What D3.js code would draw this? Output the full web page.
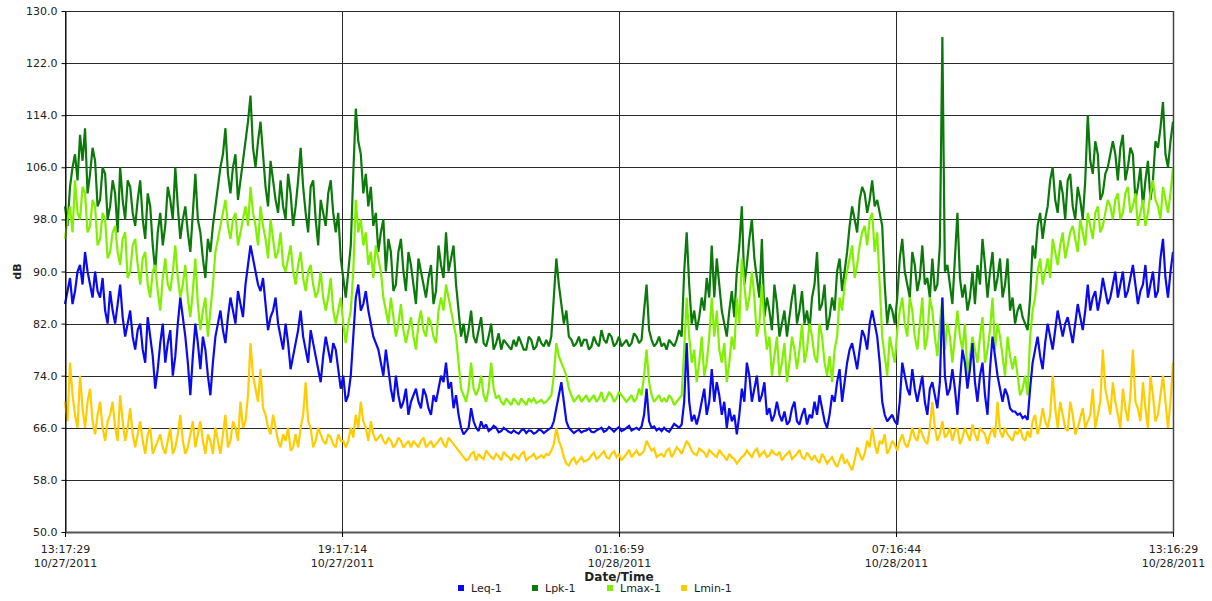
<!DOCTYPE html>
<html>
<head>
<meta charset="utf-8">
<script src="https://cdn.jsdelivr.net/npm/d3@7"></script>
<style>
  html, body { margin: 0; padding: 0; background: #fff; }
  svg { display: block; }
  text { font-family: "DejaVu Sans", Verdana, sans-serif; fill: #222; }
</style>
</head>
<body>
<svg id="chart" width="1212" height="601"></svg>
<script>
// Sound level log, 10/27/2011 13:17:29 to 10/28/2011 13:16:29 (evenly spaced samples)
const startTime = "10/27/2011 13:17:29";
const endTime = "10/28/2011 13:16:29";

const tickTimes = ["10/27/2011 13:17:29", "10/27/2011 19:17:14", "10/28/2011 01:16:59", "10/28/2011 07:16:44", "10/28/2011 13:16:29"];
const yTicks = [50, 58, 66, 74, 82, 90, 98, 106, 114, 122, 130];

const seriesNames = ["Leq-1", "Lpk-1", "Lmax-1", "Lmin-1"];

const lpk = [
  100,97,103,106,108,104,111,107,112,102,105,109,107,100,101,106,105,98,100,
  104,102,96,106,101,98,104,103,99,97,101,104,98,95,102,100,94,90,96,99,
  94,97,103,101,98,106,100,95,98,100,96,93,99,105,98,96,92,89,95,93,
  97,100,103,106,108,112,105,102,106,108,101,104,107,110,113,117,109,106,110,113,
  108,103,100,107,104,101,99,104,100,98,105,102,97,100,104,109,103,99,96,103,
  104,98,94,101,99,97,102,104,99,96,99,92,89,86,90,94,105,115,110,108,
  102,105,100,103,97,99,93,96,98,90,95,93,87,88,93,95,90,87,93,91,
  88,85,92,90,88,86,89,91,85,87,94,91,89,96,90,92,94,88,84,80,
  82,79,81,84,80,79,81,83,79,78.5,80,82,78,79,80.5,78,79.5,79,78.5,78,
  79.5,78.5,80,79,78,78,80,79.5,78,78.5,80,79,78.5,79.5,78.5,80,86,92,88,85,
  82,84,80,79.5,78.5,79,80,78.5,79.5,79.5,78,78.5,80,79,78.5,81,79.5,79,80.5,80,
  78.5,79,80,78.5,79,79.5,78.5,79,80.5,80,79,79.5,84,88,81,79.5,78.5,79,80,78.5,
  79,78,79.5,79,78.5,79.5,81,80,90,96,88,82,84,81,83,86,84,89,86,94,
  86,92,88,84,82,80,84,87,83,90,94,100,88,91,95,98,92,89,86,95,
  83,86,84,81,88,85,80,82,84,80,83,86,88,82,84,87,82,84,81,86,
  88,93,84,85,88,81,83,86,84,90,92,87,90,93,97,100,98,96,101,103,
  102,99,101,104,100,101,99,97,88,82,85,84,82,86,92,95,90,88,86,93,
  91,87,89,94,88,89,86,92,87,88,94,126,90,91,88,85,92,99,89,86,
  88,84,86,90,85,91,88,95,91,86,90,93,87,89,92,86,88,92,84,86,
  82,84,85,83,82,81,86,94,92,97,99,95,98,100,104,106,101,99,104,102,
  98,104,105,100,98,103,101,98,104,114,107,105,110,108,101,102,105,106,108,110,
  108,104,109,111,104,106,109,108,101,103,106,100,104,107,101,104,110,109,112,116,108,106,110,113
];

const lmax = [
  95,98,100,96,104,99,98,103,102,96,97,101,100,94,95,99,98,92,93,
  96,97,93,91,95,96,89,90,94,95,91,88,92,93,88,86,90,91,87,84,
  89,92,88,87,90,94,89,86,88,91,86,83,87,92,85,81,84,86,80,84,
  88,93,95,97,99,101,97,95,98,99,94,96,98,100,97,103,99,97,94,100,
  97,95,92,98,95,92,93,96,91,90,92,94,90,88,91,93,89,87,90,91,
  88,86,87,90,86,84,86,89,84,82,84,86,82,79,82,84,90,101,96,98,
  94,96,91,93,89,94,92,90,86,84,82,86,83,80,82,85,81,79,81,83,
  80,78,82,84,81,80,83,82,80,79,84,86,84,88,86,84,82,80,76,72,
  71,70,72,76,72,71,72,74,71,70,72,76,72,70.5,71,70,69.5,70.5,70,69.5,
  70.5,70,69.5,70.5,70,69.5,70.5,70,70.5,69.8,70,70.3,69.8,70,70.5,71,74,79,77,76,
  75,74,72,71,70,70.5,71,70,70.5,71,70,70.5,71,70,70.5,71.5,70,70.5,71.5,71,
  70,70.5,71.5,71,70.5,70,70.5,71,70,70.5,72,71,74,78,73,71,70,70.5,71,70,
  70.5,70,71,70.5,69.5,70,70.5,71,78,86,80,76,78,73,76,80,74,76,80,86,
  80,84,78,76,79,73,76,80,78,86,82,92,88,84,86,90,86,80,82,88,
  82,78,80,74,77,80,74,76,79,73,76,80,78,75,78,82,76,78,82,80,
  77,76,82,80,76,74,77,73,78,80,86,84,88,90,92,94,89,91,94,96,
  97,94,98,99,93,96,88,80,77,74,80,78,76,81,84,86,82,80,86,84,
  80,78,82,86,78,80,86,84,80,77,82,86,78,82,80,76,80,84,80,78,
  82,74,77,80,78,76,80,83,76,78,81,86,78,82,80,77,74,80,77,75,
  77,74,71,72,74,71,80,84,86,90,92,88,90,92,89,95,93,91,94,96,
  92,94,96,97,95,93,98,96,94,99,97,95,99,100,96,97,99,101,100,98,
  101,102,98,99,102,103,99,100,102,97,99,101,97,99,102,104,101,100,98,103,101,99,102,106
];

const leq = [
  85,87,89,85,87,90,91,88,93,90,88,86,90,87,86,89,84,82,87,
  84,82,85,88,83,80,82,84,80,78,81,82,78,76,83,80,77,72,75,79,
  82,76,79,81,74,77,82,86,83,80,76,71,77,82,79,75,80,78,74,71,
  76,80,82,84,81,79,83,86,84,82,87,85,83,88,91,94,92,90,88,87,
  89,85,81,83,84,86,82,80,78,82,79,75,77,79,81,84,80,78,76,81,
  79,77,75,73,77,80,78,76,79,78,75,72,74,70,71,74,80,86,88,84,
  85,87,84,82,80,79,78,76,74,78,75,72,70,74,71,69,70,72,68,70,
  71,72,70,69,72,71,69,68,71,70,72,74,73,76,72,73,69,71,68,66,
  65,65.5,66,69,67,66,65.5,67,66,66.5,65.5,65.8,66.3,66,65.3,65.5,66,65.7,65.4,65.2,
  65.6,65.3,65.1,65.6,65.8,65.2,65.6,65.5,65.1,65.3,65.7,65.6,65.2,65.5,65.8,66,67,69,71,73,
  70,67,66,65.6,65.2,65.5,65.7,65.3,65.5,65.6,65.9,65.4,65.3,65.6,65.8,66,65.4,65.6,66.1,65.8,
  65.4,65.8,66.1,65.5,65.7,66,66.3,65.6,65.8,66,65.7,66.2,68,72,67,66,66.2,65.6,65.9,65.5,
  66,65.6,65.4,66,66.6,66.3,66,66.5,70,79,70,67,68,66.5,68,70,72,68,70,75,
  70,73,71,68,70,66,69,67,68,65,68,72,70,76,74,70,72,74,70,71,
  73,68,69,67,68,70,68,67,68.5,66.5,67,69,70,67,66.5,68,69,66.5,68,67.5,
  70,68,71,69,67,66,68,71,70,73,75,70,73,76,78,79,77,75,78,81,
  80,78,82,84,82,80,76,70,68,67,67.5,68,67,66.5,70,76,74,72,71,75,
  72,70,72,74,70,68,72,73,71,69,73,86,74,71,72,75,72,68,73,78,
  76,72,75,79,73,70,74,76,71,68,75,80,77,74,72,70,72,71,69,68.5,
  68.5,68,68.2,67.5,67.8,67.2,72,76,78,80,77,75,79,82,80,78,81,84,82,80,
  82,83,81,79,82,85,83,81,84,88,84,86,87,84,86,89,87,85,86,88,
  90,86,88,90,86,87,89,91,88,85,87,88,91,86,88,90,86,87,92,95,89,86,90,93
];

const lmin = [
  70,67,76,71,68,66,74,69,66,70,72,67,65,68,70,66,64,67,68,
  70,66,64,71,67,64,66,69,65,63,65,67,64,62,65,66,62,63,64,65,
  63,62,64,66,62,63,65,68,64,62,63,65,67,63,65,67,64,62,65,64,
  62,66,64,62,65,68,63,64,67,66,64,70,66,67,71,79,74,72,70,75,
  69,68,66,65,68,66,64,63,65,64,66,62.5,63,65,63,66,68,73,67,66,
  63,64,66,65,64,63.5,65,64.5,63.5,63,65,64,64,63,64,66,64.5,68,66,70,
  67,66,64,67,65,64,64.5,65,64,63.5,64.5,64,63,63.5,64.5,64,63,63.5,64,63,
  64,63.5,63,64,64.5,63,63.5,64,63,63.5,64,64.5,63.5,63,64.5,64,63.5,63,62.5,62,
  61.5,61,61.2,62,62.3,61,62,61.5,61.2,62.5,62,61.5,61.2,62,61.6,61,62.3,61.8,61.5,61,
  62,61.5,61.2,62,62.3,61,61.4,61.6,62,61.2,61.5,61.8,61.4,62,61.8,62.5,63.5,66,64,63,
  61.5,60.5,60.2,61,61.4,60.5,61,61.5,60.8,61,61.2,61.8,62.2,61.2,61.5,62,62.4,61.5,61.3,62,
  62.4,61.5,62,61,61.5,62,62.6,61.5,62,62.5,61.8,62,62.5,64,63.2,62.5,62.8,61.5,61.8,62,
  61.5,62.5,62.8,61.5,62.2,63,62.6,62,63,64,63.4,62.5,62,61.8,62.8,62.5,62.2,61.5,62.6,62.2,
  61.8,61.5,62.6,62,61.6,61,62,61.5,61.2,60.5,61,61.5,61.8,62.5,62,61.5,62.4,62.8,61.6,62,
  62.4,61.5,61.8,62.5,62,61.8,62.3,61,61.6,62,62.4,61.2,61.6,62,62.6,61.5,61.2,62.2,61.6,61,
  61.8,61,60.6,62,61.4,60.5,61,61.5,60.6,60,61,62,60.5,61,60.2,59.5,61,63,62,61,
  62,64,63,66,63.5,62,64,63.5,65,62,62.8,64,63.4,62.5,64,65,63.6,63,64.2,66,
  64.5,64,66,65,64,63.5,66,70,66,64,65,67,64.5,65,66,64,65.5,66,63.5,64.5,
  66,65,64,66.5,65,64,66,65.5,65,63.5,65,66,64.5,70,65.5,64.5,66,65,64.5,64,
  65.5,65,66,64.5,64,65.5,64.5,67,68,65,66.5,69,67,66,68,74,69,66,70,68,
  66,65.5,70,68,65,66,67.5,69,66,67,68,72,66,68,70,78,72,70,68,73,
  70,68,66,72,69,67,71,78,70,69,67,73,69,66,74,71,67,68,71,74,70,66,70,76
];

const colors = ["#0a0aef", "#0b7a0b", "#80f000", "#ffcc00"];

const parse = d3.timeParse("%m/%d/%Y %H:%M:%S");
const t0 = parse(startTime), t1 = parse(endTime);
const n = lpk.length;
const step = (t1 - t0) / (n - 1);
const times = d3.range(n).map(i => new Date(+t0 + i * step));

const svg = d3.select("#chart");
const margin = { left: 65, right: 39, top: 11, bottom: 69 };
const W = 1212, H = 601;
const x = d3.scaleTime().domain([t0, t1]).range([margin.left, W - margin.right]);
const y = d3.scaleLinear().domain([50, 130]).range([H - margin.bottom, margin.top]);

// horizontal grid
svg.append("g")
  .selectAll("line").data(yTicks.slice(1)).join("line")
  .attr("x1", x.range()[0]).attr("x2", x.range()[1])
  .attr("y1", d => Math.round(y(d)) + 0.5).attr("y2", d => Math.round(y(d)) + 0.5)
  .attr("stroke", "#2a2a2a").attr("stroke-width", 1);

// vertical grid
const tickDates = tickTimes.map(parse);
svg.append("g")
  .selectAll("line").data(tickDates).join("line")
  .attr("x1", d => Math.round(x(d)) + 0.5).attr("x2", d => Math.round(x(d)) + 0.5)
  .attr("y1", y.range()[1]).attr("y2", y.range()[0])
  .attr("stroke", "#2a2a2a").attr("stroke-width", 1);

// series lines
const lines = [
  { name: "Lpk-1", values: lpk, color: colors[1] },
  { name: "Lmax-1", values: lmax, color: colors[2] },
  { name: "Leq-1", values: leq, color: colors[0] },
  { name: "Lmin-1", values: lmin, color: colors[3] }
];
const line = d3.line().x((d, i) => x(times[i])).y(d => y(d));
svg.append("g")
  .selectAll("path").data(lines).join("path")
  .attr("d", d => line(d.values))
  .attr("fill", "none")
  .attr("stroke", d => d.color)
  .attr("stroke-width", 2.2)
  .attr("stroke-linejoin", "miter")
  .attr("stroke-miterlimit", 2);

// y axis
const yAxis = d3.axisLeft(y).tickValues(yTicks).tickFormat(d3.format(".1f")).tickSize(4).tickSizeOuter(0);
const gy = svg.append("g").attr("transform", `translate(${margin.left + 0.5},0)`).call(yAxis);
gy.select(".domain").attr("stroke", "#000");
gy.selectAll(".tick line").attr("stroke", "#000");
gy.selectAll("text").attr("font-size", 11).attr("fill", "#222").attr("dx", -1);

// x axis
const fmtTime = d3.timeFormat("%H:%M:%S");
const fmtDate = d3.timeFormat("%m/%d/%Y");
const xAxis = d3.axisBottom(x).tickValues(tickDates).tickFormat("").tickSize(5).tickSizeOuter(0);
const gx = svg.append("g").attr("transform", `translate(0,${y(50)})`).call(xAxis);
gx.select(".domain").attr("stroke", "#555").attr("stroke-width", 2);
gx.selectAll(".tick line").attr("stroke", "#000");
const lbl = gx.selectAll(".tick").append("text")
  .attr("text-anchor", "middle").attr("font-size", 11).attr("fill", "#222");
lbl.append("tspan").attr("x", 0).attr("y", 21).text(d => fmtTime(d));
lbl.append("tspan").attr("x", 0).attr("y", 35).text(d => fmtDate(d));

// right and top border
svg.append("line")
  .attr("x1", x.range()[1] + 0.5).attr("x2", x.range()[1] + 0.5)
  .attr("y1", y.range()[1]).attr("y2", y.range()[0])
  .attr("stroke", "#444").attr("stroke-width", 1.5);
svg.append("line")
  .attr("x1", x.range()[0]).attr("x2", x.range()[1])
  .attr("y1", y.range()[1] + 0.5).attr("y2", y.range()[1] + 0.5)
  .attr("stroke", "#2a2a2a");

// axis titles
svg.append("text")
  .attr("transform", `translate(21,${(y.range()[0] + y.range()[1]) / 2}) rotate(-90)`)
  .attr("text-anchor", "middle").attr("font-size", 11).attr("font-weight", "bold")
  .text("dB");
svg.append("text")
  .attr("x", (x.range()[0] + x.range()[1]) / 2).attr("y", 581)
  .attr("text-anchor", "middle").attr("font-size", 12).attr("font-weight", "bold")
  .text("Date/Time");

// legend
const legendX = [458, 532, 607, 681];
const lg = svg.append("g").selectAll("g").data(seriesNames).join("g")
  .attr("transform", (d, i) => `translate(${legendX[i]},591)`);
lg.append("rect").attr("x", 0).attr("y", -6).attr("width", 6).attr("height", 6)
  .attr("fill", (d, i) => colors[i]);
lg.append("text").attr("x", 13).attr("y", 0).attr("dy", "0.1em")
  .attr("font-size", 11).attr("fill", "#222").text(d => d);
</script>
</body>
</html>
